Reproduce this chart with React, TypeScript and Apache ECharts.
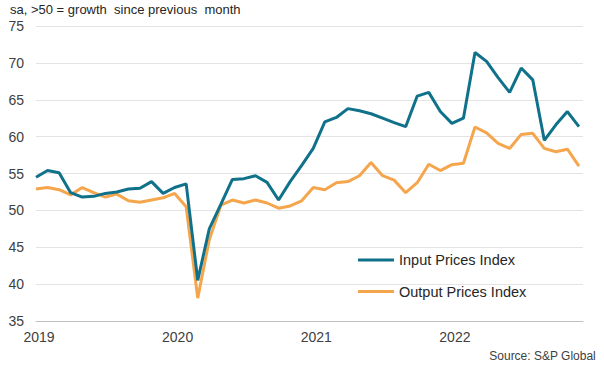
import React, { useEffect, useRef } from "react";
import * as echarts from "echarts";

const months: string[] = [];
for (const y of [2019, 2020, 2021, 2022]) {
  for (let m = 1; m <= 12; m++) months.push(`${y}-${String(m).padStart(2, "0")}`);
}

const yearLabels = ["2019", "2020", "2021", "2022"];

const inputPrices = [
  54.5, 55.4, 55.1, 52.4, 51.8, 51.9, 52.3, 52.5, 52.9, 53.0, 53.9, 52.3,
  53.1, 53.6, 40.5, 47.5, 50.8, 54.2, 54.3, 54.7, 53.8, 51.4, 53.9, 56.1,
  58.4, 62.0, 62.6, 63.8, 63.5, 63.1, 62.5, 61.9, 61.35, 65.5, 66.0, 63.4,
  61.8, 62.5, 71.4, 70.2, 68.0, 66.0, 69.3, 67.7, 59.5, 61.6, 63.4, 61.35,
];

const outputPrices = [
  52.9, 53.1, 52.8, 52.1, 53.1, 52.4, 51.8, 52.2, 51.3, 51.1, 51.4, 51.7,
  52.3, 50.5, 38.1, 46.0, 50.7, 51.4, 51.0, 51.4, 51.0, 50.3, 50.6, 51.3,
  53.1, 52.8, 53.75, 53.9, 54.7, 56.5, 54.7, 54.1, 52.4, 53.75, 56.25, 55.4,
  56.2, 56.4, 61.3, 60.5, 59.1, 58.4, 60.3, 60.45, 58.4, 57.95, 58.3, 56.0,
];

const FONT = "'Liberation Sans', Arial, sans-serif";
const TEAL = "#10718a";
const ORANGE = "#f5a64c";

export default function App() {
  const ref = useRef<HTMLDivElement>(null);

  useEffect(() => {
    if (!ref.current) return;
    const chart = echarts.init(ref.current, undefined, { renderer: "svg" });
    chart.setOption({
      animation: false,
      backgroundColor: "#ffffff",
      textStyle: { fontFamily: FONT },
      grid: { left: 36, right: 21, top: 26, bottom: 50, containLabel: false },
      xAxis: {
        type: "value",
        min: 0,
        max: 47.35,
        interval: 12,
        axisLine: { show: true, lineStyle: { color: "#bfbfbf", width: 1 } },
        axisTick: { show: false },
        splitLine: { show: false },
        axisLabel: {
          color: "#404040",
          fontSize: 14,
          fontFamily: FONT,
          margin: 9,
          padding: [0, 0, 0, 6],
          showMaxLabel: false,
          formatter: (v: number) => {
            const i = Math.round(v);
            if (Math.abs(v - i) > 1e-6 || i % 12 !== 0) return "";
            return yearLabels[i / 12] ?? "";
          },
        },
      },
      yAxis: {
        type: "value",
        min: 35,
        max: 75,
        interval: 5,
        axisLine: { show: false },
        axisTick: { show: false },
        splitLine: { show: true, lineStyle: { color: "#e3e3e3", width: 1 } },
        axisLabel: { color: "#404040", fontSize: 14, fontFamily: FONT, margin: 12 },
      },
      legend: {
        orient: "vertical",
        left: 353,
        top: 247,
        itemWidth: 36,
        itemHeight: 3,
        itemGap: 15.5,
        icon: "rect",
        textStyle: { color: "#262626", fontSize: 14.5, fontFamily: FONT, lineHeight: 16 },
        data: ["Input Prices Index", "Output Prices Index"],
      },
      graphic: [
        {
          type: "text",
          left: 10,
          top: 3,
          style: {
            text: "sa, >50 = growth  since previous  month",
            fill: "#262626",
            font: `13px ${FONT}`,
          },
        },
        {
          type: "text",
          right: 8,
          top: 350,
          style: {
            text: "Source: S&P Global",
            fill: "#404040",
            font: `12px ${FONT}`,
          },
        },
      ],
      series: [
        {
          name: "Input Prices Index",
          type: "line",
          data: months.map((_, i) => [i, inputPrices[i]]),
          showSymbol: false,
          symbol: "none",
          lineStyle: { color: TEAL, width: 3 },
          itemStyle: { color: TEAL },
          z: 3,
        },
        {
          name: "Output Prices Index",
          type: "line",
          data: months.map((_, i) => [i, outputPrices[i]]),
          showSymbol: false,
          symbol: "none",
          lineStyle: { color: ORANGE, width: 3 },
          itemStyle: { color: ORANGE },
          z: 2,
        },
      ],
    });
    return () => chart.dispose();
  }, []);

  return <div ref={ref} style={{ width: 604, height: 371, position: "absolute", left: 0, top: 0 }} />;
}
